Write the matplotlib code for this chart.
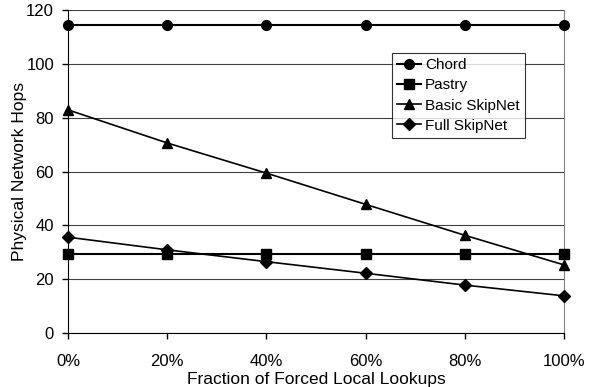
import matplotlib
matplotlib.use("Agg")
import matplotlib.pyplot as plt

plt.rcParams['font.family'] = ['Liberation Sans', 'DejaVu Sans']

fractions = [0, 20, 40, 60, 80, 100]
tick_labels = ["0%", "20%", "40%", "60%", "80%", "100%"]
chord = [114.3, 114.3, 114.3, 114.3, 114.3, 114.3]
pastry = [29.5, 29.5, 29.5, 29.5, 29.5, 29.5]
basic_skipnet = [82.9, 70.6, 59.4, 47.8, 36.3, 25.3]
full_skipnet = [35.6, 30.9, 26.5, 22.2, 17.8, 13.8]

fig = plt.figure(figsize=(5.96, 3.87), dpi=100)
ax = fig.add_axes([68/596, 1-333/387, (564-68)/596, (333-10)/387])

ax.plot(fractions, chord, color='black', lw=1.5, marker='o', ms=7, label='Chord', clip_on=False, zorder=5)
ax.plot(fractions, pastry, color='black', lw=1.5, marker='s', ms=7, label='Pastry', clip_on=False, zorder=5)
ax.plot(fractions, basic_skipnet, color='black', lw=1.2, marker='^', ms=7.5, label='Basic SkipNet', clip_on=False, zorder=5)
ax.plot(fractions, full_skipnet, color='black', lw=1.2, marker='D', ms=6, label='Full SkipNet', clip_on=False, zorder=5)

ax.set_xlim(0, 100)
ax.set_ylim(0, 120)
ax.set_xticks(fractions)
ax.set_xticklabels(tick_labels)
ax.set_yticks(range(0, 121, 20))
ax.yaxis.grid(True, color='#404040', lw=0.8)
ax.set_axisbelow(True)

ax.spines['top'].set_visible(False)
ax.spines['right'].set_color('#808080')
ax.spines['left'].set_color('black')
ax.spines['bottom'].set_color('black')
ax.tick_params(axis='both', direction='out', length=4, width=1, labelsize=12, colors='black')
ax.tick_params(axis='x', pad=11)
ax.tick_params(axis='y', pad=6)

ax.set_xlabel('Fraction of Forced Local Lookups', fontsize=12.5, labelpad=2.5)
ax.set_ylabel('Physical Network Hops', fontsize=12.5)
ax.yaxis.set_label_coords((27 - 68) / 496, 0.5)

leg = ax.legend(loc='upper left', bbox_to_anchor=((392-68)/496, 1-(53-10)/323),
                frameon=True, fancybox=False, edgecolor='black', fontsize=11,
                handlelength=1.55, handletextpad=0.25, borderpad=0.35, labelspacing=0.4,
                borderaxespad=0)
leg.get_frame().set_linewidth(0.8)

fig.savefig('out.png', dpi=100)
